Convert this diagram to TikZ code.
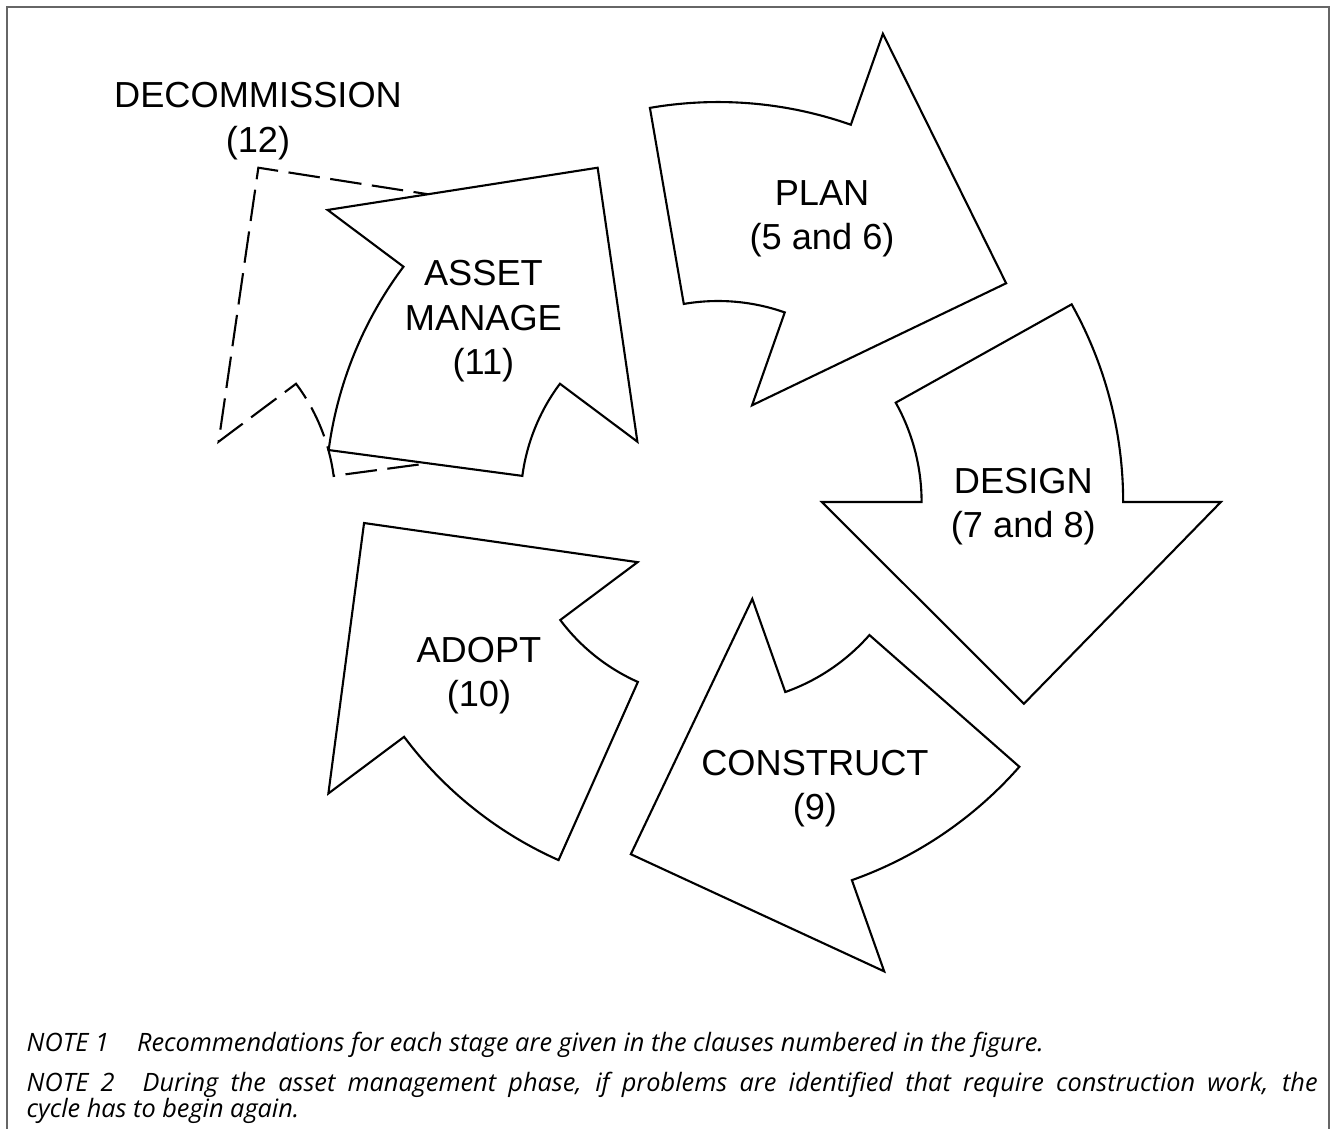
\documentclass[tikz,border=0pt]{standalone}
\usepackage{fontspec}
\setmainfont{Liberation Sans}
\newfontfamily\notefont{Open Sans}
\usetikzlibrary{calc,positioning}

\begin{document}
\begin{tikzpicture}[lbl/.style={font=\fontsize{10.3}{12.6}\selectfont, align=center, inner sep=1pt},
  stage/.style={draw, fill=white, line width=0.6pt},
  gone/.style={draw, line width=0.6pt, dash pattern=on 9pt off 3pt},
  note/.style={font=\notefont\itshape\fontsize{7.2}{7.6}\selectfont, anchor=base west, inner sep=0pt}]
\useasboundingbox (0,0) rectangle (13.35,-11.29);
\draw[black!60, line width=0.4pt] (0.07,-11.29) -- (0.07,-0.07) -- (13.29,-0.07) -- (13.29,-11.29);

%decommission (mirror of asset manage)
\begin{scope}[xshift=8.56cm, xscale=-1]
\begin{scope}[shift={(7.18,-5.02)}, rotate=143.2, scale=0.987]
\draw[gone] (29.2:3.98) arc[start angle=29.2, end angle=0, radius=3.98] -- (0:4.94) -- (-33.4:3.6) -- (0:1.02) -- (0:2) arc[start angle=0, end angle=29.2, radius=2] -- cycle;
\end{scope}
\end{scope}
\node[lbl] (decom) at (2.58,-1.21) {DECOMMISSION\\(12)};

%the five stages
\foreach \rot/\s/\nm/\txt in {70.6/1.005/plan/{PLAN\\(5 and 6)}, 0/1.018/design/{DESIGN\\(7 and 8)}, -70.5/1.008/construct/{CONSTRUCT\\(9)}, -143.2/0.985/adopt/{ADOPT\\(10)}, 143.2/0.987/asset/{ASSET\\MANAGE\\(11)}}{
\begin{scope}[shift={(7.18,-5.02)}, rotate=\rot, scale=\s]
\draw[stage] (29.2:3.98) arc[start angle=29.2, end angle=0, radius=3.98] -- (0:4.94) -- (-33.4:3.6) -- (0:1.02) -- (0:2) arc[start angle=0, end angle=29.2, radius=2] -- cycle;
\node[lbl] (\nm) at (-0.8:3) {\txt};
\end{scope}
}

%notes
\node[note] (note1) at (0.26,-10.52) {NOTE 1\hspace{8pt}Recommendations for each stage are given in the clauses numbered in the figure.};
\node[note] (note2) at (0.26,-10.92) {\makebox[12.91cm][s]{NOTE 2\hspace{8pt}During the asset management phase, if problems are identified that require construction work, the}};
\node[note] (note3) at (0.26,-11.18) {cycle has to begin again.};
\end{tikzpicture}
\end{document}
